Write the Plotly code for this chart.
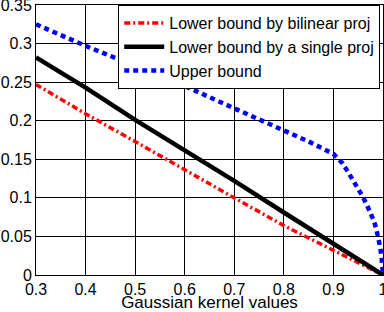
import plotly.graph_objects as go

# Data
x_lin = [0.3, 0.4, 0.5, 0.6, 0.7, 0.8, 0.9, 1.0]
lower_bilinear = [0.247, 0.209, 0.173, 0.136, 0.100, 0.064, 0.032, 0.0]
lower_single = [0.282, 0.243, 0.201, 0.162, 0.122, 0.081, 0.040, 0.0]

x_upper = [0.3, 0.4, 0.5, 0.6, 0.7, 0.8, 0.85, 0.9, 0.918, 0.928, 0.938, 0.948,
           0.957, 0.966, 0.974, 0.981, 0.986, 0.991, 0.994, 0.997, 0.999, 1.0]
upper = [0.325, 0.297, 0.271, 0.245, 0.216, 0.188, 0.173, 0.157, 0.145, 0.135,
         0.125, 0.115, 0.104, 0.093, 0.082, 0.071, 0.061, 0.049, 0.037, 0.024,
         0.011, 0.0]

x_ticks = [0.3, 0.4, 0.5, 0.6, 0.7, 0.8, 0.9, 1.0]
x_ticklabels = ["0.3", "0.4", "0.5", "0.6", "0.7", "0.8", "0.9", "1"]
y_ticks = [0, 0.05, 0.1, 0.15, 0.2, 0.25, 0.3, 0.35]
y_ticklabels = ["0", "0.05", "0.1", "0.15", "0.2", "0.25", "0.3", "0.35"]

FONT = "Liberation Sans, Arial, Helvetica, sans-serif"
FS = 16

fig = go.Figure()
fig.add_trace(go.Scatter(x=x_lin, y=lower_bilinear, mode="lines",
                         name="Lower bound by bilinear proj",
                         line=dict(color="#ff0000", width=3.5, dash="6px,3px,2px,3px")))
fig.add_trace(go.Scatter(x=x_lin, y=lower_single, mode="lines",
                         name="Lower bound by a single proj",
                         line=dict(color="#000000", width=4.5)))
fig.add_trace(go.Scatter(x=x_upper, y=upper, mode="lines",
                         name="Upper bound",
                         line=dict(color="#0000ff", width=4.5, dash="5px,4px")))

fig.update_layout(
    width=384, height=312,
    margin=dict(l=36, r=1, t=5, b=37, autoexpand=False),
    paper_bgcolor="white", plot_bgcolor="white",
    font=dict(family=FONT, size=FS, color="black"),
    showlegend=True,
    legend=dict(x=0.237, y=1.0, xanchor="left", yanchor="top",
                bgcolor="white", bordercolor="black", borderwidth=1,
                font=dict(family=FONT, size=FS, color="black"),
                itemwidth=40, tracegroupgap=0),
)
fig.update_xaxes(range=[0.3, 1.0], tickvals=x_ticks, ticktext=x_ticklabels,
                 showgrid=True, gridcolor="black", gridwidth=1,
                 showline=True, linecolor="black", linewidth=1, mirror=True,
                 zeroline=False, ticks="", ticklen=0, automargin=False,
                 ticklabeloverflow="allow",
                 title=dict(text="Gaussian kernel values", standoff=3,
                            font=dict(family=FONT, size=17)),
                 tickfont=dict(family=FONT, size=FS))
fig.update_yaxes(range=[0, 0.35], tickvals=y_ticks, ticktext=y_ticklabels,
                 showgrid=True, gridcolor="black", gridwidth=1,
                 showline=True, linecolor="black", linewidth=1, mirror=True,
                 zeroline=False, ticks="", ticklen=0, automargin=False,
                 ticklabeloverflow="allow",
                 tickfont=dict(family=FONT, size=FS))

fig.write_html(
    "out.html",
    config={"displayModeBar": False},
    post_script="document.body.style.margin='0';document.body.style.padding='0';"
                "document.body.style.overflow='hidden';",
)
